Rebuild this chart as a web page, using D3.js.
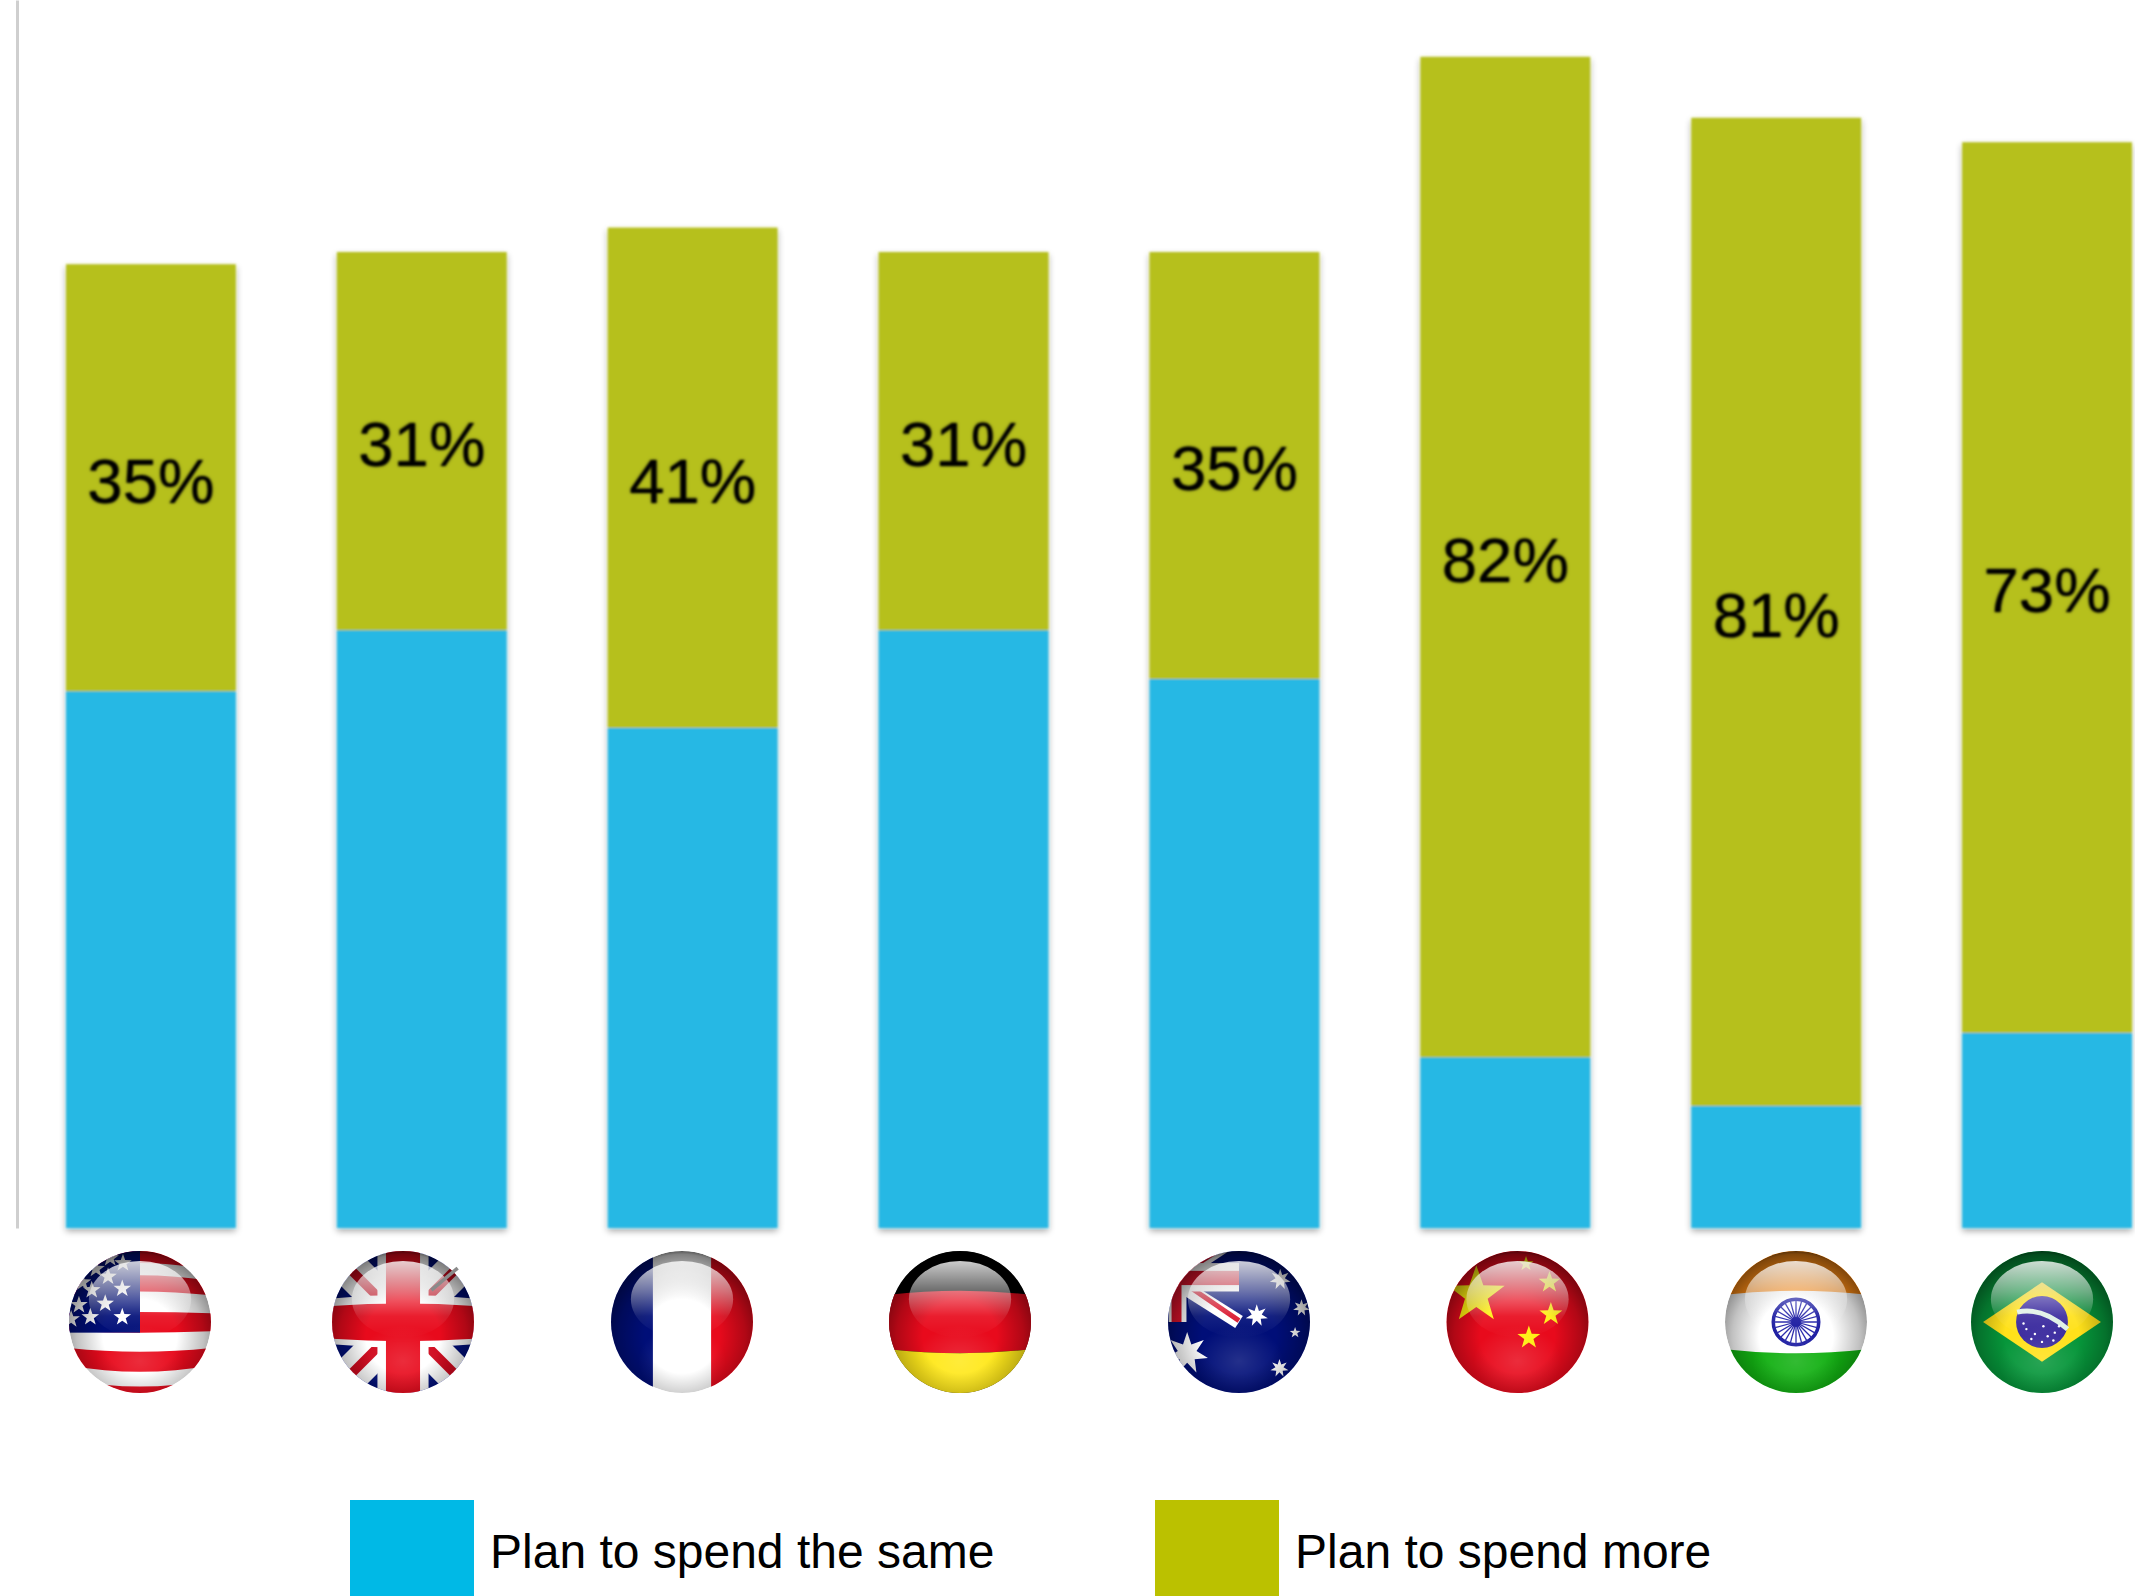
<!DOCTYPE html>
<html>
<head>
<meta charset="utf-8">
<script src="https://cdn.jsdelivr.net/npm/d3@7/dist/d3.min.js"></script>
<style>
  html, body { margin: 0; padding: 0; background: #fff; }
  svg { display: block; }
  text { font-family: "Liberation Sans", Arial, sans-serif; fill: #000; }
</style>
</head>
<body>
<svg id="chart" width="2135" height="1596"></svg>
<script>
// Survey results: share of respondents per country
const countries = ["United States", "United Kingdom", "France", "Germany", "Australia", "China", "India", "Brazil"];
const planSame = [44, 49, 41, 49, 45, 14, 10, 16];
const planMore = [35, 31, 41, 31, 35, 82, 81, 73];
const seriesNames = ["Plan to spend the same", "Plan to spend more"];

// Layout and palette
const width = 2135, height = 1596;
const baseY = 1228, fullScaleTop = 8;
const barRange = [66, 2132];
const flagX = [140, 403, 682, 960, 1239, 1517.5, 1796, 2042];
const flagY = 1322, flagR = 71;
const barColors = ["#28b8e4", "#b6c01c"];
const legendColors = ["#00b9e6", "#bbc100"];

const svg = d3.select("#chart");
const defs = svg.append("defs");

const x = d3.scaleBand().domain(countries).range(barRange).paddingInner(0.373).paddingOuter(0);
const y = d3.scaleLinear().domain([0, 100]).range([baseY, fullScaleTop]);

// Soft shadow under the bars, soft edges on the labels
const barFilter = defs.append("filter").attr("id", "barSoft").attr("filterUnits", "userSpaceOnUse")
  .attr("x", 0).attr("y", 0).attr("width", width).attr("height", height);
barFilter.append("feDropShadow").attr("dx", 0).attr("dy", 3).attr("stdDeviation", 3)
  .attr("flood-color", "#000").attr("flood-opacity", 0.35);
barFilter.append("feGaussianBlur").attr("stdDeviation", 0.8);

const labelFilter = defs.append("filter").attr("id", "labelSoft").attr("filterUnits", "userSpaceOnUse")
  .attr("x", 0).attr("y", 0).attr("width", width).attr("height", height);
labelFilter.append("feDropShadow").attr("dx", 0).attr("dy", 0).attr("stdDeviation", 1.6)
  .attr("flood-color", "#000").attr("flood-opacity", 0.55);
labelFilter.append("feGaussianBlur").attr("stdDeviation", 0.8);

// Left axis: a plain rule without ticks
const axis = d3.axisLeft(d3.scaleLinear().domain([0, 1]).range([baseY, 0])).tickValues([]).tickSizeOuter(0);
svg.append("g").attr("transform", "translate(17,0)").call(axis)
  .select(".domain").attr("stroke", "#cfcfcf").attr("stroke-width", 3);

// Stacked bars; the shadow belongs to the whole stack so segments meet cleanly
const stackRows = countries.map((c, i) => ({ country: c, same: planSame[i], more: planMore[i] }));
const stacked = d3.stack().keys(["same", "more"])(stackRows);
svg.append("g").attr("filter", "url(#barSoft)")
  .selectAll("g").data(stacked).join("g")
  .attr("fill", (d, i) => barColors[i])
  .selectAll("rect").data(d => d).join("rect")
  .attr("x", d => x(d.data.country))
  .attr("width", x.bandwidth())
  .attr("y", d => y(d[1]))
  .attr("height", d => y(d[0]) - y(d[1]));

// Percentage labels centred in the upper segment
svg.append("g").attr("filter", "url(#labelSoft)").selectAll("text").data(stacked[1]).join("text")
  .attr("x", d => x(d.data.country) + x.bandwidth() / 2)
  .attr("y", d => (y(d[0]) + y(d[1])) / 2 + 2)
  .attr("dy", "0.36em")
  .attr("text-anchor", "middle")
  .attr("font-size", 63.5)
  .text(d => d.data.more + "%");

// Glossy globe overlays shared by every flag
const vignette = defs.append("radialGradient").attr("id", "globeEdge")
  .attr("cx", "50%").attr("cy", "60%").attr("r", "62%");
[[0.42, 0], [0.72, 0.24], [0.93, 0.5], [1, 0.78]].forEach(([o, a]) =>
  vignette.append("stop").attr("offset", o).attr("stop-color", "#000").attr("stop-opacity", a));
const shine = defs.append("linearGradient").attr("id", "globeShine")
  .attr("x1", 0).attr("y1", 0).attr("x2", 0).attr("y2", 1);
[[0, 0.8], [0.4, 0.42], [0.72, 0.08], [1, 0]].forEach(([o, a]) =>
  shine.append("stop").attr("offset", o).attr("stop-color", "#fff").attr("stop-opacity", a));
const glow = defs.append("radialGradient").attr("id", "globeGlow");
[[0, 0.14], [1, 0]].forEach(([o, a]) =>
  glow.append("stop").attr("offset", o).attr("stop-color", "#fff").attr("stop-opacity", a));
defs.append("clipPath").attr("id", "globeClip").attr("clipPathUnits", "userSpaceOnUse")
  .append("circle").attr("r", 1);

// Flag artwork is drawn in a unit square around the globe centre
const bent = v => v * 0.86;
function band(y0, y1) {
  return `M-1.05,${bent(y0)}Q0,${2 * y0 - bent(y0)} 1.05,${bent(y0)}` +
         `L1.05,${bent(y1)}Q0,${2 * y1 - bent(y1)} -1.05,${bent(y1)}Z`;
}
function star(cx, cy, r, points = 5, inner = 0.4) {
  const pts = d3.range(points * 2).map(k => {
    const a = -Math.PI / 2 + k * Math.PI / points;
    const rr = k % 2 ? r * inner : r;
    return [cx + rr * Math.cos(a), cy + rr * Math.sin(a)];
  });
  return "M" + pts.join("L") + "Z";
}
const rect = (g, x0, y0, w, h, fill) => g.append("rect")
  .attr("x", x0).attr("y", y0).attr("width", w).attr("height", h).attr("fill", fill);
const path = (g, d, fill) => g.append("path").attr("d", d).attr("fill", fill);
const seg = (g, x1, y1, x2, y2, stroke, sw) => g.append("line")
  .attr("x1", x1).attr("y1", y1).attr("x2", x2).attr("y2", y2)
  .attr("stroke", stroke).attr("stroke-width", sw);

const RED = "#e80a1c", NAVY = "#000e78", WHITE = "#ffffff";

const painters = {
  "United States"(g) {
    rect(g, -1.1, -1.1, 2.2, 2.2, WHITE);
    [[-1.1, -0.83], [-0.66, -0.43], [-0.14, 0.15], [0.42, 0.7], [0.91, 1.1]].forEach(([a, b]) => path(g, band(a, b), RED));
    rect(g, -1.1, -1.1, 1.1, 1.25, NAVY);
    [[-0.25, -0.07], [-0.7, -0.07], [-0.49, -0.26], [-0.86, -0.24], [-0.25, -0.47], [-0.68, -0.45],
     [-0.45, -0.64], [-0.62, -0.75], [-0.81, -0.56], [-0.24, -0.83], [-0.97, -0.04], [-0.42, -0.9]]
      .forEach(([a, b]) => path(g, star(a, b, 0.13), WHITE));
  },
  "United Kingdom"(g) {
    rect(g, -1.1, -1.1, 2.2, 2.2, NAVY);
    seg(g, -1.1, -1.1, 1.1, 1.1, WHITE, 0.52);
    seg(g, -1.1, 1.1, 1.1, -1.1, WHITE, 0.52);
    seg(g, -1.1, -1.1, 1.1, 1.1, "#d00a1e", 0.13);
    seg(g, -1.1, 1.1, 1.1, -1.1, "#d00a1e", 0.13);
    rect(g, -0.36, -1.1, 0.72, 2.2, WHITE);
    path(g, band(-0.38, 0.36), WHITE);
    rect(g, -0.24, -1.1, 0.48, 2.2, RED);
    path(g, band(-0.26, 0.27), RED);
  },
  "France"(g) {
    rect(g, -1.1, -1.1, 2.2, 2.2, WHITE);
    rect(g, -1.1, -1.1, 0.69, 2.2, NAVY);
    rect(g, 0.41, -1.1, 0.69, 2.2, RED);
  },
  "Germany"(g) {
    rect(g, -1.1, -1.1, 2.2, 2.2, "#000");
    path(g, band(-0.44, 0.44), RED);
    path(g, band(0.44, 1.3), "#ffe81a");
  },
  "Australia"(g) {
    rect(g, -1.1, -1.1, 2.2, 2.2, NAVY);
    const u = g.append("g");
    seg(u, -0.98, -0.62, 0, 0, WHITE, 0.2);
    seg(u, -0.88, -0.62, 0, -0.02, "#d8122a", 0.07);
    seg(u, -0.88, -0.62, 0, -1.2, WHITE, 0.18);
    seg(u, -0.88, -0.62, 0, -1.2, "#d8122a", 0.06);
    rect(u, -1.1, -0.83, 1.1, 0.4, WHITE);
    rect(u, -0.99, -1.1, 0.25, 1.1, WHITE);
    rect(u, -1.1, -0.72, 1.1, 0.2, "#d8122a");
    rect(u, -0.95, -1.1, 0.14, 1.1, "#d8122a");
    [[0.58, -0.6, 0.15], [0.25, -0.09, 0.16], [0.88, -0.2, 0.12], [0.57, 0.65, 0.13], [-0.73, 0.44, 0.3]]
      .forEach(([a, b, r]) => path(g, star(a, b, r, 7, 0.45), WHITE));
    path(g, star(0.79, 0.15, 0.08), WHITE);
  },
  "China"(g) {
    rect(g, -1.1, -1.1, 2.2, 2.2, RED);
    [[-0.58, -0.38, 0.42], [0.12, -0.82, 0.11], [0.45, -0.56, 0.16], [0.47, -0.11, 0.17], [0.16, 0.22, 0.17]]
      .forEach(([a, b, r]) => path(g, star(a, b, r), "#ffee10"));
  },
  "India"(g) {
    rect(g, -1.1, -1.1, 2.2, 2.2, WHITE);
    path(g, band(-1.3, -0.44), "#ff8c14");
    path(g, band(0.44, 1.3), "#12b012");
    const wheel = g.append("g");
    wheel.append("circle").attr("r", 0.32).attr("fill", "#fff").attr("stroke", "#1a1aa0").attr("stroke-width", 0.05);
    d3.range(24).forEach(k => {
      const a = k * Math.PI / 12;
      seg(wheel, 0, 0, 0.32 * Math.cos(a), 0.32 * Math.sin(a), "#2222a8", 0.018);
    });
    wheel.append("circle").attr("r", 0.07).attr("fill", "#1a1aa0");
  },
  "Brazil"(g) {
    rect(g, -1.1, -1.1, 2.2, 2.2, "#06963a");
    path(g, "M-0.83,0L0,-0.56L0.83,0L0,0.56Z", "#ffe11a");
    g.append("circle").attr("r", 0.365).attr("fill", "#3a2a9e");
    g.append("path").attr("d", "M-0.35,-0.14Q0,-0.22 0.36,0.1")
      .attr("fill", "none").attr("stroke", "#dff0e6").attr("stroke-width", 0.07);
    [[-0.22, 0.1], [-0.1, 0.17], [0.02, 0.06], [0.08, 0.2], [0.18, 0.15], [-0.15, 0.24],
     [0.0, 0.28], [0.16, 0.26], [-0.26, 0.02], [0.24, 0.06]]
      .forEach(([a, b]) => g.append("circle").attr("cx", a).attr("cy", b).attr("r", 0.017).attr("fill", "#fff"));
  }
};

// Flag row beneath the bars
const flags = svg.append("g").selectAll("g").data(countries).join("g")
  .attr("transform", (d, i) => `translate(${flagX[i]},${flagY}) scale(${flagR})`);
flags.each(function (name) {
  const g = d3.select(this);
  const ball = g.append("g").attr("clip-path", "url(#globeClip)");
  painters[name](ball);
  ball.append("ellipse").attr("cy", 0.55).attr("rx", 0.62).attr("ry", 0.5).attr("fill", "url(#globeGlow)");
  ball.append("circle").attr("r", 1).attr("fill", "url(#globeEdge)");
  ball.append("ellipse").attr("cy", -0.32).attr("rx", 0.72).attr("ry", 0.54).attr("fill", "url(#globeShine)");
  if (name === "United Kingdom") {
    seg(g, 0.4, -0.45, 0.77, -0.76, "#8a8a8a", 0.05);
  }
});

// Legend along the bottom edge
const legendSwatchX = [350, 1155];
const legendTextX = [490, 1295];
const legend = svg.append("g").selectAll("g").data(seriesNames).join("g");
legend.append("rect")
  .attr("x", (d, i) => legendSwatchX[i]).attr("y", 1500)
  .attr("width", 124).attr("height", 96)
  .attr("fill", (d, i) => legendColors[i]);
legend.append("text")
  .attr("x", (d, i) => legendTextX[i]).attr("y", 1568)
  .attr("font-size", 48)
  .text(d => d);
</script>
</body>
</html>
